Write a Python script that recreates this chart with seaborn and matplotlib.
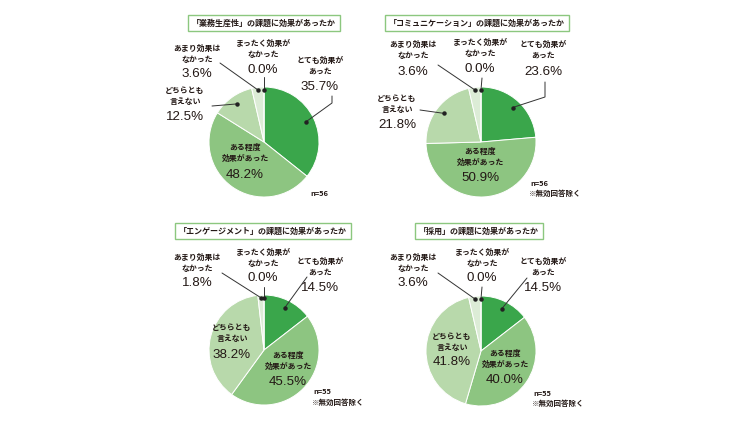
import seaborn as sns
import matplotlib.pyplot as plt
import numpy as np

sns.set_theme(style="white")
plt.rcParams['font.family'] = ['Noto Sans CJK JP', 'DejaVu Sans']

# data (percent)
categories = ['とても効果が\nあった', 'ある程度\n効果があった', 'どちらとも\n言えない',
              'あまり効果は\nなかった', 'まったく効果が\nなかった']
titles = ['「業務生産性」の課題に効果があったか',
          '「コミュニケーション」の課題に効果があったか',
          '「エンゲージメント」の課題に効果があったか',
          '「採用」の課題に効果があったか']
productivity = [35.7, 48.2, 12.5, 3.6, 0.0]
communication = [23.6, 50.9, 21.8, 3.6, 0.0]
engagement = [14.5, 45.5, 38.2, 1.8, 0.0]
recruiting = [14.5, 40.0, 41.8, 3.6, 0.0]
sample_sizes = ['n=56', 'n=56', 'n=55', 'n=55']
notes = ['', '※無効回答除く', '※無効回答除く', '※無効回答除く']

colors = ['#3aa64b', '#8dc581', '#b8d9ab', '#dcecd6', '#eef6ea']
text_col = '#231815'

# layout in pixels (x, y from top)
W, H = 750, 422
R = 55
layouts = [
    dict(center=(264, 142), title=(264, 23), n=(310, 193),
         labels={0: (320, 66, 87, [(332, 96), (332, 103)]),
                 1: (245, 153, 175, None),
                 2: (185, 96, 117, [(212, 106)]),
                 3: (197, 54, 74, [(220, 63)]),
                 4: (263, 49, 70, [(264, 77)])}),
    dict(center=(481, 142), title=(477, 23), n=(530, 183),
         labels={0: (543, 50, 72, [(545, 82), (545, 97)]),
                 1: (480, 157, 178, None),
                 2: (397, 104, 125, [(420, 110)]),
                 3: (413, 50, 72, [(438, 65)]),
                 4: (480, 48, 69, [(482, 78)])}),
    dict(center=(264, 350), title=(263, 231), n=(313, 392),
         labels={0: (320, 267, 288, [(307, 277)]),
                 1: (288, 361, 382, None),
                 2: (232, 333, 355, None),
                 3: (197, 263, 283, [(222, 273)]),
                 4: (263, 258, 278, [(264, 287)])}),
    dict(center=(481, 351), title=(479, 231), n=(533, 393),
         labels={0: (543, 267, 288, [(527, 278)]),
                 1: (505, 359, 380, None),
                 2: (452, 342, 362, None),
                 3: (413, 263, 283, [(438, 273)]),
                 4: (482, 258, 278, [(482, 287)])}),
]
series = [productivity, communication, engagement, recruiting]

fig = plt.figure(figsize=(7.5, 4.22), dpi=100)
fig.patch.set_facecolor('white')

ov = fig.add_axes([0, 0, 1, 1], zorder=5)
ov.set_xlim(0, W)
ov.set_ylim(H, 0)
ov.axis('off')
ov.patch.set_alpha(0)

for values, title, n_txt, note, lay in zip(series, titles, sample_sizes, notes, layouts):
    cx, cy = lay['center']
    ax = fig.add_axes([(cx - R) / W, 1 - (cy + R) / H, 2 * R / W, 2 * R / H])
    ax.pie(values, colors=colors, startangle=90, counterclock=False, radius=1,
           wedgeprops=dict(edgecolor='white', linewidth=0.7))
    ax.set_xlim(-1, 1)
    ax.set_ylim(-1, 1)
    ax.set_aspect('auto')
    ax.axis('off')

    frac = np.array(values) / np.sum(values)
    before = np.concatenate([[0], np.cumsum(frac)[:-1]])
    mids = 90 - 360 * (before + frac / 2)

    for i, (tx, ty, py, leader) in lay['labels'].items():
        ov.text(tx, ty, categories[i], ha='center', va='center', fontsize=5.7,
                fontweight='bold', color=text_col, linespacing=1.2)
        ov.text(tx, py, f'{values[i]:.1f}%', ha='center', va='center', fontsize=9.6,
                color=text_col, family=['Liberation Sans', 'DejaVu Sans'])
        if leader is not None:
            rr = 0.95 if frac[i] < 0.05 else 0.85
            a = np.deg2rad(mids[i])
            dx, dy = cx + rr * R * np.cos(a), cy - rr * R * np.sin(a)
            pts = [(dx, dy)] + leader[::-1]
            ov.plot([p[0] for p in pts], [p[1] for p in pts], color='#333333', lw=0.7)
            ov.plot(dx, dy, 'o', ms=2.2, color='#222222')

    tx, ty = lay['title']
    ov.text(tx, ty, title, ha='center', va='center', fontsize=5.8, fontweight='bold',
            color=text_col,
            bbox=dict(boxstyle='square,pad=0.45', facecolor='white',
                      edgecolor='#8cc77f', linewidth=1.0))

    nx, ny = lay['n']
    ov.text(nx, ny, n_txt, ha='left', va='center', fontsize=5.4, fontweight='bold',
            color=text_col)
    if note:
        ov.text(nx - 1, ny + 10, note, ha='left', va='center', fontsize=5.4,
                fontweight='bold', color=text_col)

fig.savefig('out.png', dpi=100, facecolor='white')
